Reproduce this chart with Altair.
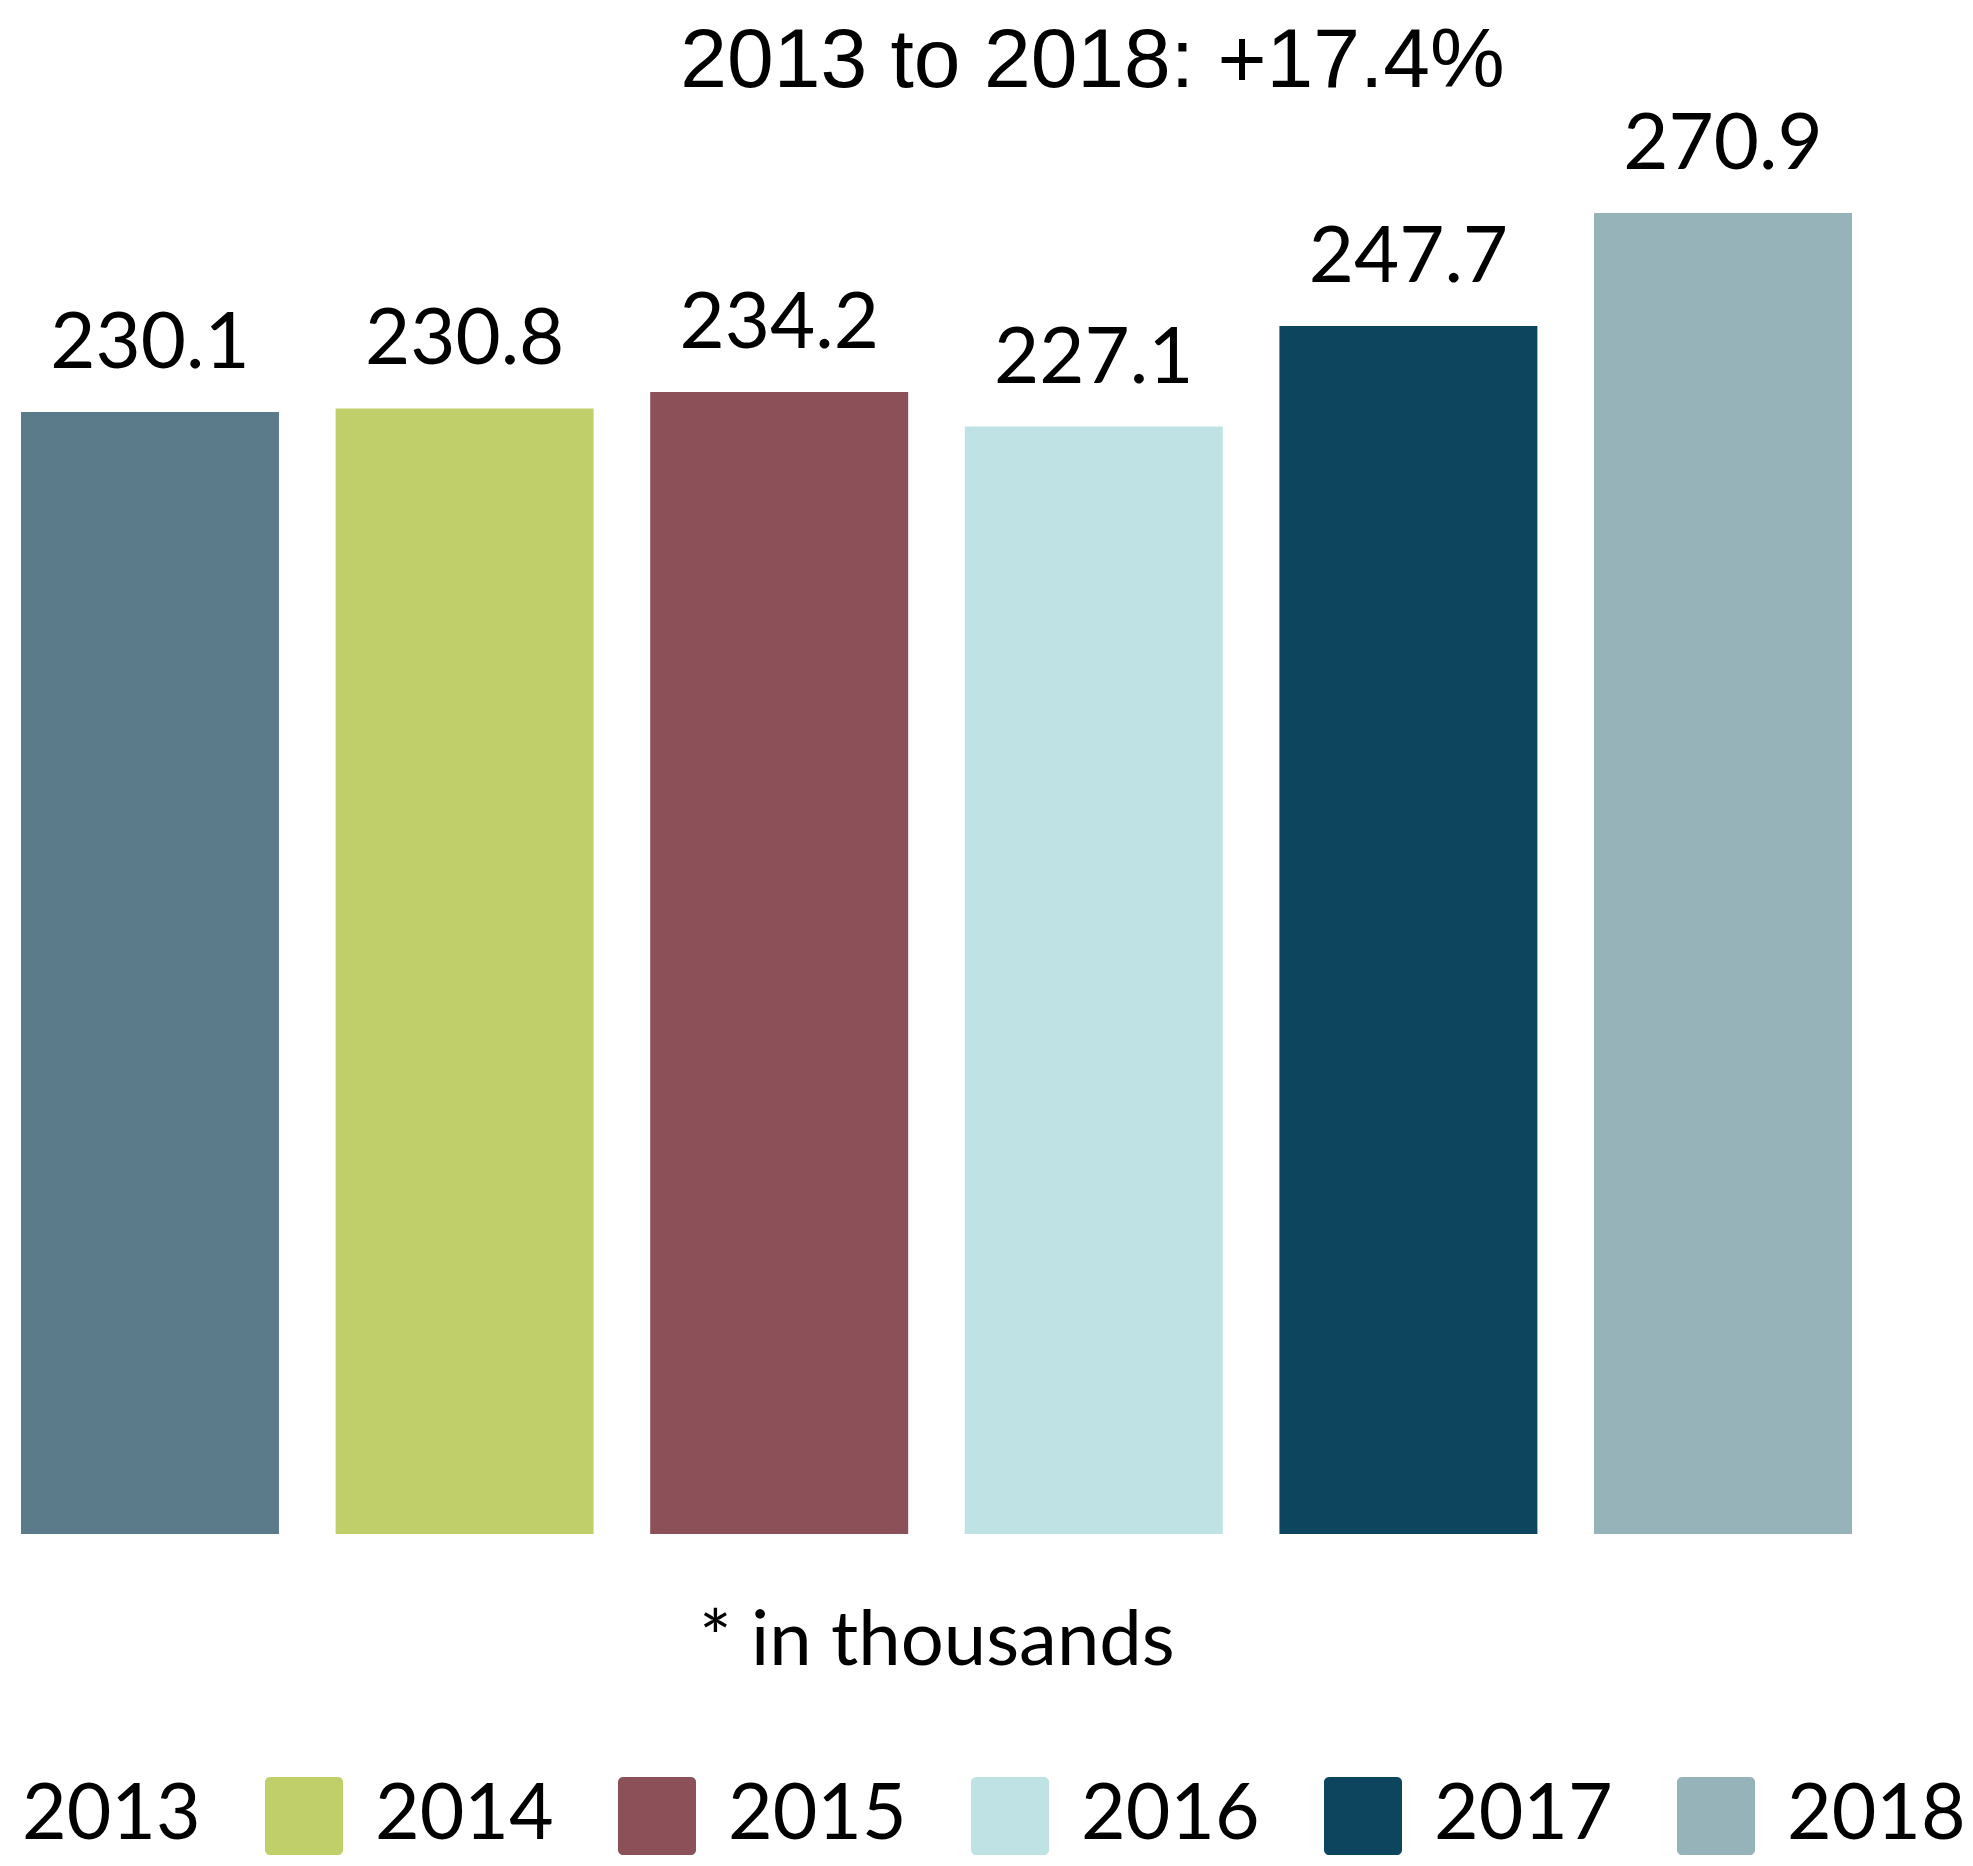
import altair as alt
import pandas as pd

years = ["2013", "2014", "2015", "2016", "2017", "2018"]
values = [230.1, 230.8, 234.2, 227.1, 247.7, 270.9]
colors = ["#5B7A8A", "#C0CF6A", "#8B5058", "#BFE2E5", "#0E455E", "#95B3B8"]
title_text = "2013 to 2018: +17.4%"
note_text = "* in thousands"

df = pd.DataFrame({"year": years, "value": values})

rounded_square = (
    "M-0.87,-1H0.87A0.13,0.13,0,0,1,1,-0.87V0.87A0.13,0.13,0,0,1,0.87,1"
    "H-0.87A0.13,0.13,0,0,1,-1,0.87V-0.87A0.13,0.13,0,0,1,-0.87,-1Z"
)

x_enc = alt.X(
    "year:N",
    sort=years,
    scale=alt.Scale(paddingInner=0.18, paddingOuter=0),
    axis=alt.Axis(
        labels=False, ticks=False, domain=False, grid=False,
        title=note_text, titleFont="Lato", titleFontSize=76,
        titleFontWeight="normal", titleColor="black", titlePadding=70,
    ),
)
y_enc = alt.Y("value:Q", scale=alt.Scale(domain=[0, 300], nice=False, zero=True), axis=None)

bars = alt.Chart(df).mark_bar().encode(
    x=x_enc,
    y=y_enc,
    color=alt.Color(
        "year:N",
        sort=years,
        scale=alt.Scale(domain=years, range=colors),
        legend=alt.Legend(
            title=None,
            orient="none",
            legendX=-109,
            legendY=1706,
            direction="horizontal",
            columns=6,
            symbolType=rounded_square,
            symbolSize=6084,
            symbolStrokeWidth=0,
            symbolOpacity=1,
            labelFont="Lato",
            labelFontSize=77,
            labelColor="black",
            labelOffset=32,
            labelLimit=400,
            columnPadding=64,
            padding=0,
        ),
    ),
)

labels = alt.Chart(df).mark_text(
    font="Lato", fontSize=78, color="black", baseline="alphabetic", dy=-44
).encode(
    x=alt.X("year:N", sort=years),
    y=alt.Y("value:Q"),
    text=alt.Text("value:Q", format=".1f"),
)

chart = (
    alt.layer(bars, labels)
    .properties(
        width=1831,
        height=1463,
        autosize=alt.AutoSizeParams(type="none"),
        padding={"left": 13, "top": 63, "right": 113, "bottom": 324},
        title=alt.TitleParams(
            title_text,
            font="Liberation Sans",
            fontSize=84,
            fontWeight="normal",
            color="black",
            anchor="middle",
            offset=0,
            dx=156,
            dy=34,
        ),
    )
    .configure_view(stroke=None)
)

chart.save("out.html", embed_options={"renderer": "svg", "actions": False})
